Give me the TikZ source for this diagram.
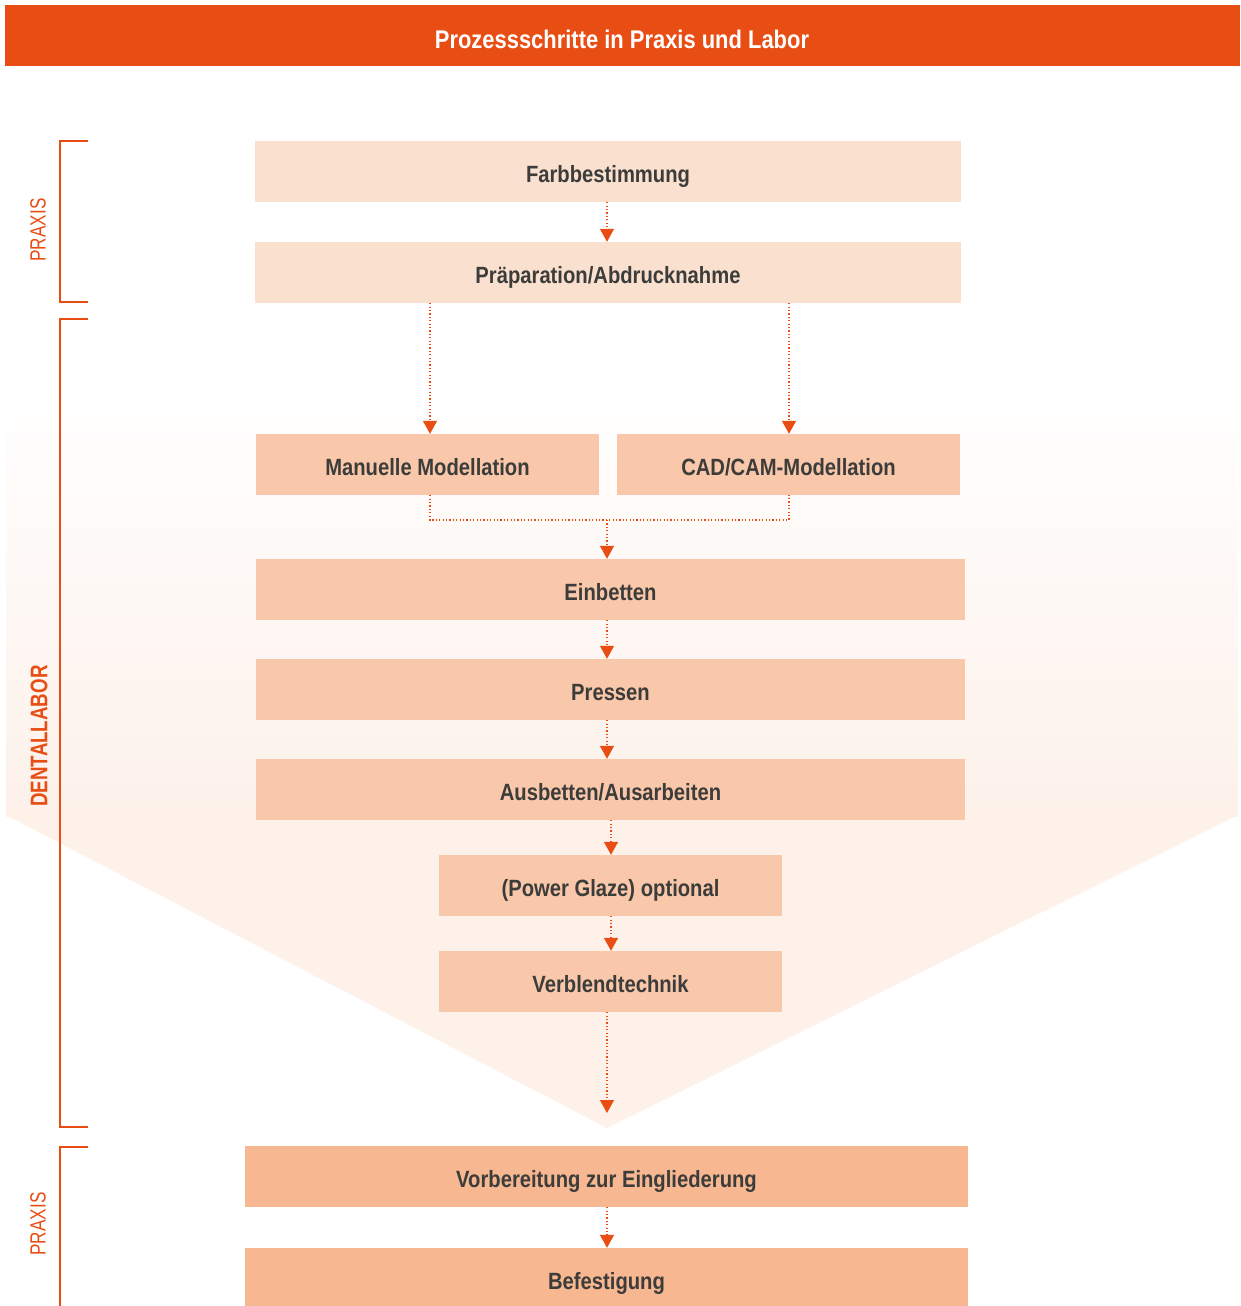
\documentclass[tikz,border=0pt]{standalone}
\usepackage{fontspec}
\setmainfont{Liberation Sans}
\newfontfamily\cf[FakeStretch=0.86]{Liberation Sans}
\newfontfamily\vf[FakeStretch=0.78]{Liberation Sans}
\usetikzlibrary{arrows.meta}
\definecolor{orng}{HTML}{E84E14}
\definecolor{boxA}{HTML}{FAE0CF}
\definecolor{boxB}{HTML}{F9C7A9}
\definecolor{boxC}{HTML}{F6B791}
\definecolor{txt}{HTML}{3C3C3B}
\definecolor{bgc}{HTML}{FDF1EA}
\tikzset{
  stepbox/.style={rectangle, inner sep=0pt, minimum height=61pt, text=txt,
    text height=21pt, text depth=0pt,
    font=\cf\bfseries\fontsize{23.5}{26}\selectfont},
  flow/.style={draw=orng, line width=1.3pt, dash pattern=on 1.2pt off 2.2pt,
    -{Triangle[width=14pt,length=13pt]}},
  flowline/.style={draw=orng, line width=1.3pt, dash pattern=on 1.2pt off 2.2pt},
  brack/.style={draw=orng, line width=1.6pt},
  sidelbl/.style={rotate=90, text=orng, inner sep=0pt},
}
\begin{document}
\begin{tikzpicture}[x=1pt,y=-1pt]
\clip (0,0) rectangle (1240,1306);
\fill[white] (0,0) rectangle (1240,1306);
% background funnel
\shade[top color=white, bottom color=bgc, draw=none] (6,385) rectangle (1238,816);
\fill[bgc] (6,815) -- (1238,815) -- (607,1128) -- cycle;
% header
\fill[orng] (5,5) rectangle (1240,66);
\node[text=white, font=\cf\bfseries\fontsize{25.5}{28}\selectfont] (title) at (622,39) {Prozessschritte in Praxis und Labor};
% brackets
\draw[brack] (88,141) -- (60,141) -- (60,302) -- (88,302);
\draw[brack] (88,319) -- (60,319) -- (60,1127) -- (88,1127);
\draw[brack] (88,1147) -- (60,1147) -- (60,1312);
\node[sidelbl, font=\vf\fontsize{22}{24}\selectfont] (p1) at (38,230) {PRAXIS};
\node[sidelbl, font=\vf\bfseries\fontsize{24}{26}\selectfont] (dl) at (39,736) {DENTALLABOR};
\node[sidelbl, font=\vf\fontsize{22}{24}\selectfont] (p2) at (38,1224) {PRAXIS};
% boxes
\node[stepbox, fill=boxA, minimum width=706pt] (farb) at (608,171.5) {Farbbestimmung};
\node[stepbox, fill=boxA, minimum width=706pt] (praep) at (608,272.5) {Präparation/Abdrucknahme};
\node[stepbox, fill=boxB, minimum width=343pt] (man) at (427.5,464.5) {Manuelle Modellation};
\node[stepbox, fill=boxB, minimum width=343pt] (cad) at (788.5,464.5) {CAD/CAM-Modellation};
\node[stepbox, fill=boxB, minimum width=709pt] (einb) at (610.5,589.5) {Einbetten};
\node[stepbox, fill=boxB, minimum width=709pt] (press) at (610.5,689.5) {Pressen};
\node[stepbox, fill=boxB, minimum width=709pt] (ausb) at (610.5,789.5) {Ausbetten/Ausarbeiten};
\node[stepbox, fill=boxB, minimum width=343pt] (power) at (610.5,885.5) {(Power Glaze) optional};
\node[stepbox, fill=boxB, minimum width=343pt] (verbl) at (610.5,981.5) {Verblendtechnik};
\node[stepbox, fill=boxC, minimum width=723pt] (vorb) at (606.5,1176.5) {Vorbereitung zur Eingliederung};
\node[stepbox, fill=boxC, minimum width=723pt] (bef) at (606.5,1278.5) {Befestigung};
% connectors
\coordinate (a1) at (607,0);
\coordinate (a2) at (430,0);
\coordinate (a3) at (789,0);
\coordinate (j) at (607,520);
\coordinate (a4) at (611,0);
\coordinate (tip) at (607,1113);
\draw[flow] (farb.south -| a1) -- (praep.north -| a1);
\draw[flow] (praep.south -| a2) -- (man.north -| a2);
\draw[flow] (praep.south -| a3) -- (cad.north -| a3);
\draw[flowline] (man.south -| a2) |- (j) -| (cad.south -| a3);
\draw[flow] (j) -- (einb.north -| j);
\draw[flow] (einb.south -| a1) -- (press.north -| a1);
\draw[flow] (press.south -| a1) -- (ausb.north -| a1);
\draw[flow] (ausb.south -| a4) -- (power.north -| a4);
\draw[flow] (power.south -| a4) -- (verbl.north -| a4);
\draw[flow] (verbl.south -| tip) -- (tip);
\draw[flow] (vorb.south -| a1) -- (bef.north -| a1);
\end{tikzpicture}
\end{document}
